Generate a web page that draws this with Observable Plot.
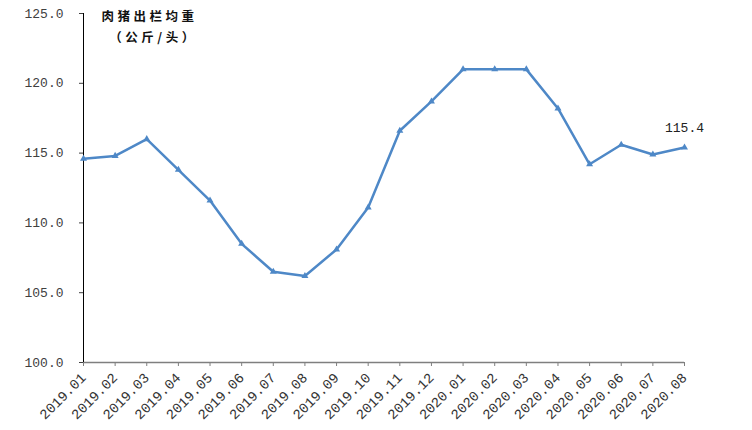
<!DOCTYPE html>
<html><head><meta charset="utf-8">
<script src="https://cdn.jsdelivr.net/npm/d3@7"></script>
<script src="https://cdn.jsdelivr.net/npm/@observablehq/plot@0.6"></script>
<style>html,body{margin:0;padding:0;background:#fff}</style>
</head><body><div id="chart"></div>
<script>
const months = ["2019.01","2019.02","2019.03","2019.04","2019.05","2019.06","2019.07","2019.08","2019.09","2019.10","2019.11","2019.12","2020.01","2020.02","2020.03","2020.04","2020.05","2020.06","2020.07","2020.08"];
const weights = [114.6,114.8,116.0,113.8,111.6,108.5,106.5,106.2,108.1,111.1,116.6,118.7,121.0,121.0,121.0,118.2,114.2,115.6,114.9,115.4];
const yTicks = [100,105,110,115,120,125];
const titleLine1 = "肉猪出栏均重";
const titleLine2 = "（公斤/头）";
const lastLabel = "115.4";

const data = months.map((m, i) => ({month: m, weight: weights[i]}));
const last = data[data.length - 1];
const lineColor = "#4E88C7";
const cjk = "'Noto Sans CJK SC', sans-serif";

const chart = Plot.plot({
  width: 752, height: 430,
  marginLeft: 83, marginRight: 68, marginTop: 13, marginBottom: 68,
  style: {fontFamily: "'Liberation Mono', monospace", fontSize: "13px", color: "#404040", background: "#fff", overflow: "visible"},
  x: {type: "point", domain: months, padding: 0, round: false},
  y: {domain: [100, 125]},
  marks: [
    Plot.axisY({ticks: yTicks, tickFormat: d3.format(".1f"), tickSize: 4, tickPadding: 16, label: null, stroke: "#404040", fill: "#404040", fontSize: 13}),
    Plot.axisX({tickRotate: -45, tickSize: 4, tickPadding: 9, label: null, stroke: "#7f7f7f", fill: "#333", fontSize: 14}),
    Plot.ruleY([100], {stroke: "#7f7f7f", strokeWidth: 1.5}),
    Plot.ruleX([months[0]], {stroke: "#000", strokeWidth: 1}),
    Plot.line(data, {x: "month", y: "weight", stroke: lineColor, strokeWidth: 2.5}),
    Plot.dot(data, {x: "month", y: "weight", symbol: "triangle", r: 2.6, fill: lineColor, stroke: "none"}),
    Plot.text([last], {x: "month", y: "weight", text: () => lastLabel, dy: -20, fill: "#222", fontSize: 13}),
    Plot.text([titleLine1], {frameAnchor: "top-left", dx: 66, dy: 3, textAnchor: "middle", lineAnchor: "middle", fill: "#111", fontSize: 12.5, fontWeight: 600, fontFamily: cjk}),
    Plot.text([titleLine2], {frameAnchor: "top-left", dx: 70, dy: 24, textAnchor: "middle", lineAnchor: "middle", fill: "#111", fontSize: 12.5, fontWeight: 600, fontFamily: cjk})
  ]
});
chart.querySelectorAll("text").forEach(t => {
  if (t.textContent === titleLine1) t.setAttribute("letter-spacing", "3.5");
  if (t.textContent === titleLine2) t.setAttribute("letter-spacing", "3.5");
});
document.getElementById("chart").append(chart);
</script>
</body></html>
